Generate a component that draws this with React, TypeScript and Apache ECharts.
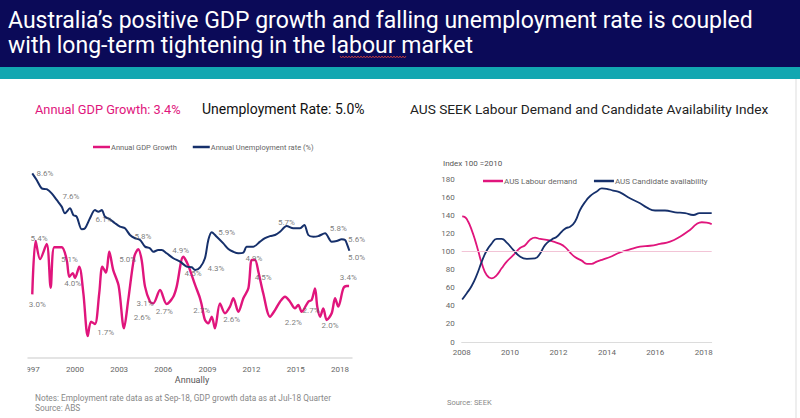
import React, { useEffect, useRef } from 'react';
import * as echarts from 'echarts';

// ---------- Left chart: GDP growth & unemployment (ABS) ----------
const gdpYears = [1997.10, 1997.33, 1997.63, 1998.08, 1998.35, 1998.60, 1999.10, 1999.44, 1999.62, 1999.85, 2000.00, 2000.29, 2000.57, 2000.87, 2001.09, 2001.36, 2001.65, 2001.86, 2002.11, 2002.33, 2002.60, 2002.97, 2003.33, 2003.62, 2004.03, 2004.30, 2004.53, 2004.76, 2005.10, 2005.32, 2005.78, 2006.23, 2006.68, 2006.91, 2007.36, 2007.68, 2008.16, 2008.49, 2008.61, 2008.83, 2009.06, 2009.29, 2009.51, 2009.85, 2010.19, 2010.53, 2010.76, 2011.10, 2011.44, 2011.78, 2012.01, 2012.23, 2012.46, 2012.79, 2013.25, 2013.59, 2013.93, 2014.27, 2014.61, 2014.95, 2015.17, 2015.40, 2015.85, 2016.08, 2016.31, 2016.46, 2016.65, 2016.87, 2017.10, 2017.44, 2017.67, 2017.89, 2018.23, 2018.46, 2018.62];
const gdpValues = [2.96, 5.44, 4.60, 5.30, 3.27, 5.15, 5.15, 4.56, 3.78, 3.95, 3.72, 4.25, 3.02, 1.02, 1.69, 1.58, 3.02, 4.25, 3.97, 4.94, 4.09, 3.35, 1.38, 2.70, 4.71, 5.06, 4.56, 3.32, 2.62, 2.54, 3.16, 2.51, 2.85, 3.32, 4.71, 4.33, 3.40, 2.79, 2.47, 1.77, 1.61, 1.92, 1.38, 2.54, 2.08, 2.39, 2.78, 2.15, 2.78, 3.24, 4.56, 4.56, 4.01, 3.01, 1.92, 2.23, 2.62, 2.85, 2.62, 2.31, 2.47, 2.15, 2.62, 2.70, 3.24, 2.39, 1.92, 2.31, 1.77, 2.08, 2.78, 2.39, 3.24, 3.35, 3.35];

const unempYears = [1997.10, 1997.40, 1997.74, 1998.08, 1998.42, 1998.76, 1999.10, 1999.32, 1999.66, 1999.89, 2000.12, 2000.46, 2000.68, 2001.02, 2001.36, 2001.59, 2001.82, 2002.04, 2002.38, 2002.72, 2003.06, 2003.40, 2003.74, 2004.08, 2004.42, 2004.76, 2005.10, 2005.32, 2005.66, 2005.89, 2006.23, 2006.68, 2007.14, 2007.59, 2007.93, 2008.16, 2008.50, 2008.83, 2009.06, 2009.29, 2009.63, 2010.08, 2010.42, 2010.76, 2011.10, 2011.44, 2011.67, 2012.12, 2012.57, 2012.91, 2013.25, 2013.59, 2013.93, 2014.38, 2014.83, 2015.29, 2015.58, 2015.85, 2016.19, 2016.53, 2016.99, 2017.44, 2017.78, 2018.12, 2018.35, 2018.46, 2018.64];
const unempValues = [8.59, 8.28, 7.89, 7.85, 7.66, 7.35, 7.04, 6.73, 6.96, 6.65, 6.57, 5.99, 6.03, 6.50, 6.88, 6.80, 6.88, 6.57, 6.45, 6.27, 6.11, 6.03, 5.72, 5.57, 5.49, 5.18, 5.10, 4.94, 5.02, 5.02, 4.87, 4.64, 4.48, 4.25, 4.22, 4.09, 4.22, 4.64, 5.49, 5.85, 5.64, 5.33, 5.07, 4.94, 4.87, 4.90, 5.18, 5.18, 5.41, 5.57, 5.67, 5.72, 5.87, 6.14, 6.03, 6.03, 6.19, 5.72, 5.64, 5.67, 5.80, 5.41, 5.44, 5.52, 5.49, 5.33, 4.99];

// data-label annotations (where each label sits, and its text)
const gdpLabelYears = [1997.44, 1997.56, 1999.62, 1999.85, 2002.09, 2003.58, 2004.57, 2004.76, 2006.07, 2007.18, 2008.61, 2010.65, 2012.16, 2012.79, 2014.83, 2016.04, 2017.33, 2018.57];
const gdpLabelAt = [2.47, 5.57, 4.59, 3.47, 1.18, 4.56, 1.89, 2.54, 2.15, 4.99, 2.23, 1.80, 4.64, 3.73, 1.64, 2.19, 1.50, 3.73];
const gdpLabelTexts = ['3.0%', '5.4%', '5.1%', '4.0%', '1.7%', '5.0%', '2.6%', '3.1%', '2.7%', '4.9%', '2.7%', '2.6%', '4.9%', '4.5%', '2.2%', '2.7%', '2.0%', '3.4%'];

const unempLabelYears = [1997.96, 1999.73, 2001.97, 2004.62, 2008.02, 2009.58, 2010.31, 2014.37, 2017.89, 2019.13, 2019.13];
const unempLabelAt = [8.56, 7.53, 6.42, 5.67, 3.95, 4.14, 5.86, 6.29, 6.03, 5.53, 4.68];
const unempLabelTexts = ['8.6%', '7.6%', '6.1%', '5.8%', '4.5%', '4.3%', '5.9%', '5.7%', '5.8%', '5.6%', '5.0%'];

const leftYearTicks = [1997, 2000, 2003, 2006, 2009, 2012, 2015, 2018];

// ---------- Right chart: SEEK indices ----------
const demandYears = [2008.02, 2008.14, 2008.27, 2008.41, 2008.55, 2008.69, 2008.83, 2009.03, 2009.24, 2009.45, 2009.65, 2009.86, 2010.13, 2010.41, 2010.62, 2010.82, 2011.03, 2011.24, 2011.51, 2011.79, 2012.06, 2012.27, 2012.48, 2012.68, 2012.96, 2013.17, 2013.37, 2013.58, 2013.85, 2014.13, 2014.54, 2014.95, 2015.37, 2015.78, 2016.19, 2016.61, 2017.02, 2017.43, 2017.71, 2017.92, 2018.12, 2018.33];
const demandValues = [139, 138, 133, 124, 113, 100, 87, 74, 70.5, 74, 81.5, 89, 96, 104, 107, 113, 115.5, 114, 113, 111, 108.5, 105, 99, 94, 90, 86.5, 86.5, 89, 91.5, 94, 99, 102.5, 105.5, 106.5, 108.5, 111, 116.5, 124, 130.5, 132.5, 132, 130.5];

const availYears = [2008.02, 2008.21, 2008.41, 2008.62, 2008.83, 2009.03, 2009.24, 2009.45, 2009.65, 2009.86, 2010.13, 2010.41, 2010.69, 2011.03, 2011.24, 2011.45, 2011.72, 2011.93, 2012.13, 2012.31, 2012.48, 2012.68, 2012.89, 2013.10, 2013.31, 2013.58, 2013.79, 2013.99, 2014.26, 2014.54, 2014.95, 2015.37, 2015.64, 2015.99, 2016.40, 2016.82, 2017.23, 2017.57, 2017.83, 2018.33];
const availValues = [47, 54, 62, 74, 89, 101, 109, 114, 114, 110, 102, 94.5, 92, 92.5, 98, 107.5, 113.5, 116.5, 122, 126, 127.5, 133, 146, 155, 161.5, 166.5, 170, 169.5, 167.5, 165.5, 159, 153.5, 149, 145.5, 145.5, 143.5, 142.5, 140.5, 142.5, 142.5];

const rightYearTicks = [2008, 2010, 2012, 2014, 2016, 2018];
const indexBase = 100;

const PINK = '#e0157c';
const NAVY = '#16306b';
const FONT = 'Roboto, "Noto Sans", sans-serif';

const zip = (xs: number[], ys: number[]) => xs.map((x, i) => [x, ys[i]]);

function wavy(x0: number, x1: number, y: number) {
  const pts: number[][] = [];
  let up = true;
  for (let x = x0; x <= x1; x += 1.5) {
    pts.push([x, up ? y - 1 : y + 1]);
    up = !up;
  }
  return pts;
}

export default function App() {
  const ref = useRef<HTMLDivElement>(null);
  useEffect(() => {
    document.body.style.margin = '0';
    const chart = echarts.init(ref.current!, null, { renderer: 'svg', width: 800, height: 418 });
    const labelSeries = (name: string, xs: number[], ys: number[], texts: string[]) => ({
      name,
      type: 'scatter',
      xAxisIndex: 0,
      yAxisIndex: 0,
      data: zip(xs, ys),
      symbolSize: 1,
      clip: false,
      silent: true,
      itemStyle: { color: 'rgba(0,0,0,0)' },
      label: {
        show: true,
        position: 'inside',
        formatter: (p: any) => texts[p.dataIndex],
        color: '#5a5a5a',
        fontSize: 8,
        fontFamily: FONT,
      },
      z: 5,
    });
    const option: any = {
      animation: false,
      backgroundColor: '#ffffff',
      textStyle: { fontFamily: FONT },
      grid: [
        { left: 28, right: 448, top: 143, bottom: 60 },
        { left: 461.7, right: 88.3, top: 179.3, bottom: 76 },
      ],
      xAxis: [
        {
          gridIndex: 0,
          type: 'value',
          min: 1996.81,
          max: 2018.82,
          axisLine: { lineStyle: { color: '#dcdcdc', width: 1.5 } },
          axisTick: { show: false },
          splitLine: { show: false },
          axisLabel: {
            customValues: leftYearTicks,
            formatter: (v: number) => String(Math.round(v)),
            color: '#666',
            fontSize: 8,
            margin: 7,
          },
        },
        {
          gridIndex: 1,
          type: 'value',
          min: 2008,
          max: 2018.33,
          axisLine: { lineStyle: { color: '#dcdcdc', width: 1 } },
          axisTick: { show: false },
          splitLine: { show: false },
          axisLabel: {
            customValues: rightYearTicks,
            formatter: (v: number) => String(Math.round(v)),
            color: '#666',
            fontSize: 8,
            margin: 6,
          },
        },
      ],
      yAxis: [
        { gridIndex: 0, type: 'value', min: 0, max: 10, show: false },
        {
          gridIndex: 1,
          type: 'value',
          min: 0,
          max: 180,
          interval: 20,
          axisLine: { show: false },
          axisTick: { show: false },
          splitLine: { show: false },
          axisLabel: { color: '#666', fontSize: 8, margin: 7 },
        },
      ],
      legend: [
        {
          data: ['Annual GDP Growth', 'Annual Unemployment rate (%)'],
          left: 88,
          top: 138,
          icon: 'rect',
          itemWidth: 17,
          itemHeight: 2.5,
          itemGap: 16,
          textStyle: { color: '#666', fontSize: 7.5, fontFamily: FONT, padding: [0, 0, 0, -4] },
        },
        {
          data: ['AUS Labour demand', 'AUS Candidate availability'],
          left: 478,
          top: 172,
          icon: 'rect',
          itemWidth: 20,
          itemHeight: 2.5,
          itemGap: 17,
          textStyle: { color: '#666', fontSize: 8, fontFamily: FONT, padding: [0, 0, 0, -4] },
        },
      ],
      series: [
        {
          name: 'Annual GDP Growth',
          type: 'line',
          xAxisIndex: 0,
          yAxisIndex: 0,
          data: zip(gdpYears, gdpValues),
          showSymbol: false,
          smooth: 0.3,
          color: PINK,
          lineStyle: { color: PINK, width: 2.4 },
          z: 2,
        },
        {
          name: 'Annual Unemployment rate (%)',
          type: 'line',
          xAxisIndex: 0,
          yAxisIndex: 0,
          data: zip(unempYears, unempValues),
          showSymbol: false,
          smooth: 0.3,
          color: NAVY,
          lineStyle: { color: NAVY, width: 2 },
          z: 3,
        },
        labelSeries('gdpLabels', gdpLabelYears, gdpLabelAt, gdpLabelTexts),
        labelSeries('unempLabels', unempLabelYears, unempLabelAt, unempLabelTexts),
        {
          name: 'AUS Labour demand',
          type: 'line',
          xAxisIndex: 1,
          yAxisIndex: 1,
          data: zip(demandYears, demandValues),
          showSymbol: false,
          smooth: true,
          color: PINK,
          lineStyle: { color: PINK, width: 1.8 },
          markLine: {
            silent: true,
            symbol: 'none',
            label: { show: false },
            lineStyle: { color: '#f2c4d6', width: 1, type: 'solid' },
            data: [{ yAxis: indexBase }],
          },
          z: 2,
        },
        {
          name: 'AUS Candidate availability',
          type: 'line',
          xAxisIndex: 1,
          yAxisIndex: 1,
          data: zip(availYears, availValues),
          showSymbol: false,
          smooth: true,
          color: NAVY,
          lineStyle: { color: NAVY, width: 1.8 },
          z: 3,
        },
      ],
      graphic: [
        { type: 'rect', shape: { x: 0, y: 0, width: 800, height: 67 }, style: { fill: '#0b0a58' }, z: 0 },
        { type: 'rect', shape: { x: 0, y: 67, width: 800, height: 12 }, style: { fill: '#12a7b1' }, z: 0 },
        { type: 'line', shape: { x1: 796, y1: 79, x2: 796, y2: 418 }, style: { stroke: '#dddddd', lineWidth: 1 }, z: 0 },
        {
          type: 'text',
          x: 8,
          y: 20,
          style: {
            text: 'Australia’s positive GDP growth and falling unemployment rate is coupled',
            fill: '#ffffff',
            font: '23px Roboto, sans-serif',
            verticalAlign: 'middle',
          },
          z: 10,
        },
        {
          type: 'text',
          x: 8,
          y: 45,
          style: {
            text: 'with long-term tightening in the labour market',
            fill: '#ffffff',
            font: '23px Roboto, sans-serif',
            verticalAlign: 'middle',
          },
          z: 10,
        },
        { type: 'polyline', shape: { points: wavy(340, 406, 57) }, style: { stroke: '#d9443c', lineWidth: 0.8, fill: 'none' }, z: 11 },
        {
          type: 'text',
          x: 35,
          y: 109,
          style: { text: 'Annual GDP Growth: 3.4%', fill: PINK, font: '12.8px Roboto, sans-serif', verticalAlign: 'middle' },
          z: 10,
        },
        {
          type: 'text',
          x: 202,
          y: 109,
          style: { text: 'Unemployment Rate: 5.0%', fill: '#111111', font: '14px Roboto, sans-serif', verticalAlign: 'middle' },
          z: 10,
        },
        {
          type: 'text',
          x: 410,
          y: 109,
          style: { text: 'AUS SEEK Labour Demand and Candidate Availability Index', fill: '#222222', font: '13.7px Roboto, sans-serif', verticalAlign: 'middle' },
          z: 10,
        },
        {
          type: 'text',
          x: 443,
          y: 163,
          style: { text: 'Index 100 =2010', fill: '#555555', font: '8px Roboto, sans-serif', verticalAlign: 'middle' },
          z: 10,
        },
        {
          type: 'text',
          x: 192,
          y: 380,
          style: { text: 'Annually', fill: '#555555', font: '9px Roboto, sans-serif', align: 'center', verticalAlign: 'middle' },
          z: 10,
        },
        {
          type: 'text',
          x: 35,
          y: 398,
          style: { text: 'Notes: Employment rate data as at Sep-18, GDP growth data as at Jul-18 Quarter', fill: '#888888', font: '8.3px Roboto, sans-serif', verticalAlign: 'middle' },
          z: 10,
        },
        {
          type: 'text',
          x: 35,
          y: 408,
          style: { text: 'Source: ABS', fill: '#888888', font: '8.3px Roboto, sans-serif', verticalAlign: 'middle' },
          z: 10,
        },
        {
          type: 'text',
          x: 447,
          y: 402,
          style: { text: 'Source: SEEK', fill: '#888888', font: '7.5px Roboto, sans-serif', verticalAlign: 'middle' },
          z: 10,
        },
        // the left chart's frame cuts off the first year's leading digit
        { type: 'rect', shape: { x: 0, y: 360, width: 27.5, height: 18 }, style: { fill: '#ffffff' }, z: 100 },
      ],
    };
    chart.setOption(option);
    return () => chart.dispose();
  }, []);
  return <div ref={ref} style={{ position: 'absolute', left: 0, top: 0, width: 800, height: 418, background: '#fff' }} />;
}
